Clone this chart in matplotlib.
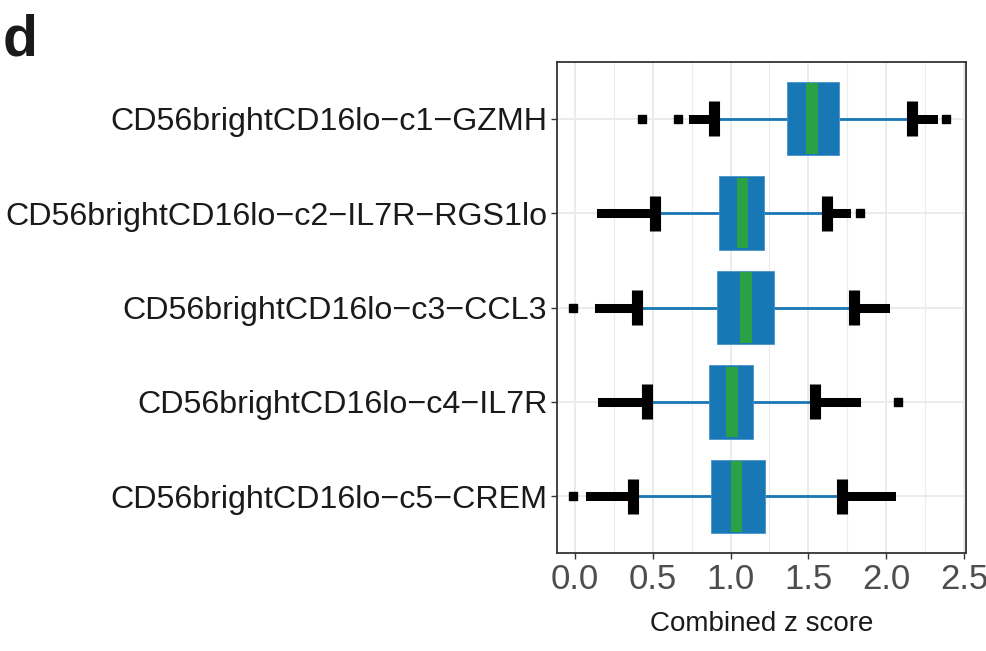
import numpy as np
import matplotlib
matplotlib.use("Agg")
import matplotlib.pyplot as plt

plt.rcParams['font.family'] = ['Liberation Sans', 'DejaVu Sans']

clusters = ["CD56brightCD16lo\u2212c1\u2212GZMH",
            "CD56brightCD16lo\u2212c2\u2212IL7R\u2212RGS1lo",
            "CD56brightCD16lo\u2212c3\u2212CCL3",
            "CD56brightCD16lo\u2212c4\u2212IL7R",
            "CD56brightCD16lo\u2212c5\u2212CREM"]
whisker_lo = [0.895, 0.516, 0.400, 0.465, 0.375]
q1 = [1.361, 0.923, 0.914, 0.861, 0.872]
median = [1.522, 1.077, 1.101, 1.008, 1.039]
q3 = [1.694, 1.215, 1.280, 1.147, 1.220]
whisker_hi = [2.163, 1.623, 1.792, 1.544, 1.715]
# outliers packed so tight they form a solid run next to each whisker
dense_lo = [0.762, 0.170, 0.153, 0.174, 0.095]
dense_hi = [2.300, 1.739, 1.992, 1.803, 2.034]
# outliers standing on their own
sparse = [[0.431, 0.662, 2.385], [1.830], [-0.01], [2.076], [-0.01]]

xticks = [0.0, 0.5, 1.0, 1.5, 2.0, 2.5]

blue = '#1877b5'
green = '#2ca044'

fig = plt.figure(figsize=(9.86, 6.51), dpi=100)
ax = fig.add_axes([557/986, 98/651, 409/986, 491/651])

ypos = np.arange(len(clusters))[::-1] + 1
q1a = np.array(q1)
q3a = np.array(q3)
meda = np.array(median)

ax.hlines(ypos, whisker_lo, whisker_hi, color=blue, lw=2, zorder=2)
for y, lo, wl, wh, hi in zip(ypos, dense_lo, whisker_lo, whisker_hi, dense_hi):
    ax.plot([lo, wl], [y, y], color='k', lw=6.5, solid_capstyle='projecting', zorder=3)
    ax.plot([wh, hi], [y, y], color='k', lw=6.5, solid_capstyle='projecting', zorder=3)
for y, pts in zip(ypos, sparse):
    ax.plot(pts, [y] * len(pts), 's', color='k', ms=6.3, zorder=3)
ax.vlines(whisker_lo, ypos - 0.185, ypos + 0.185, color='k', lw=8, zorder=4)
ax.vlines(whisker_hi, ypos - 0.185, ypos + 0.185, color='k', lw=8, zorder=4)

ax.barh(ypos, q3a - q1a, left=q1a, height=0.78, color=blue, edgecolor='#4a93c6', lw=0.6, zorder=5)
ax.barh(ypos, 0.075, left=meda - 0.0375, height=0.75, color=green, lw=0, zorder=6)

ax.set_xlim(-0.115, 2.513)
ax.set_ylim(0.4, 5.6)
ax.set_xticks(xticks)
ax.set_xticklabels(["%.1f" % v for v in xticks])
ax.set_xticks(np.arange(0.25, 2.5, 0.5), minor=True)
ax.set_yticks(ypos)
ax.set_yticklabels(clusters)

ax.set_axisbelow(True)
ax.grid(which='major', color='#ebebeb', lw=1.4)
ax.grid(which='minor', axis='x', color='#ebebeb', lw=0.8)
for s in ax.spines.values():
    s.set_color('#333333')
    s.set_linewidth(1.3)

ax.tick_params(axis='x', which='major', labelsize=25, labelcolor='#4d4d4d',
               color='#333333', length=4, width=1, pad=3)
ax.tick_params(axis='y', which='major', labelsize=23.2, labelcolor='#1a1a1a',
               color='#333333', length=4, width=1, pad=3)
ax.tick_params(which='minor', length=0)

ax.set_xlabel("Combined z score", fontsize=20, color='#1a1a1a', labelpad=11)

fig.text(0.003, 1 - 55/651, 'd', fontsize=41, fontweight='bold', va='baseline', color='#1a1a1a')

fig.savefig('out.png', dpi=100)
